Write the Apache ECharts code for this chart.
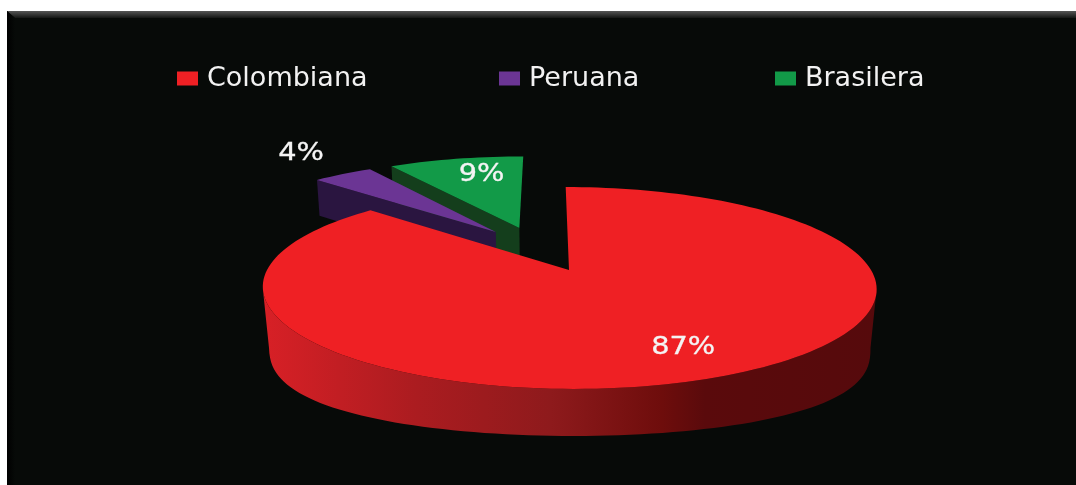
<!DOCTYPE html>
<html>
<head>
<meta charset="utf-8">
<style>
  html, body { margin: 0; padding: 0; background: #fff; }
  #main { width: 1076px; height: 485px; }
</style>
<script src="https://cdn.jsdelivr.net/npm/echarts@6/dist/echarts.min.js"></script>
</head>
<body>
<div id="main"></div>
<script>
const categories = ['Colombiana', 'Peruana', 'Brasilera'];
const shares = [87, 4, 9];
const colors = ['#ef2024', '#6b3594', '#129a48'];
const wallColors = ['#d42026', '#2a1540', '#143e1c'];
const legendLeft = [177, 499, 775];

// how far each slice is pulled out of the pie, in pie radii
const explode = [[0, 0], [-0.255, 0.418], [-0.172, 0.465]];
// label position relative to the slice's own centre, in pie radii
const labelAt = [[0.322, -0.698], [-0.85, 1.086], [-0.163, 0.71]];

// perspective of the pie: u goes right, v goes to the back
const cx = 569, apexY = 270, radius = 302, persp = 0.178, backSlope = -49.7, skew = 0.04;
const depth = 41, depthScaleX = 0.99, depthScaleY = 1.058, rimScaleX = 0.98;
// rim of the big slice, fuller than an ellipse like in the source picture
const rimTopY = 288, rimTopRy = 101, rimY = 345, rimRy = 91, rimPow = 0.75;

const total = shares.reduce((a, b) => a + b, 0);

function project(u, v) {
    const w = 1 + persp * v;
    const y = (apexY + backSlope * v) / w;
    return [cx + radius * u / w + (y - apexY) * skew, y];
}
function lower(p) {
    return [cx + (p[0] - cx) * depthScaleX, apexY + (p[1] - apexY) * depthScaleY + depth];
}
function lowerRim(p) {
    const t = Math.max(0, (p[1] - rimTopY) / rimTopRy);
    return [cx + (p[0] - cx) * rimScaleX, rimY + rimRy * Math.pow(t, rimPow)];
}
function startAngle(idx) {
    let sum = 0;
    for (let i = 0; i < idx; i++) sum += shares[i];
    return sum / total * Math.PI * 2;
}

function renderSlice(params) {
    const idx = params.seriesIndex === 0 ? 2 : params.seriesIndex === 1 ? 1 : 0;
    const from = startAngle(idx);
    const to = from + shares[idx] / total * Math.PI * 2;
    const off = explode[idx];
    const arc = [];
    const steps = Math.ceil(shares[idx] * 2);
    for (let i = 0; i <= steps; i++) {
        const a = from + (to - from) * i / steps;
        arc.push(project(off[0] + Math.sin(a), off[1] + Math.cos(a)));
    }
    const apex = project(off[0], off[1]);
    const children = [];

    if (idx > 0) {
        // left cut face, only the pulled out slices show it
        children.push({
            type: 'polygon',
            shape: { points: [arc[0], apex, lower(apex), lower(arc[0])] },
            style: { fill: wallColors[idx] }
        });
    } else {
        // front part of the outer wall, back part is hidden by the top
        const front = arc.filter(p => p[1] >= rimTopY);
        children.push({
            type: 'polygon',
            shape: { points: front.concat(front.map(lowerRim).reverse()) },
            style: {
                fill: new echarts.graphic.LinearGradient(0, 0, 1, 0, [
                    { offset: 0, color: '#d82026' },
                    { offset: 0.25, color: '#ab1c20' },
                    { offset: 0.47, color: '#8e1a1c' },
                    { offset: 0.65, color: '#6e0d0c' },
                    { offset: 0.72, color: '#5a0a0c' },
                    { offset: 1, color: '#560a0c' }
                ])
            }
        });
    }
    children.push({
        type: 'polygon',
        shape: { points: arc.concat([apex]) },
        style: { fill: colors[idx] }
    });
    const lp = project(off[0] + labelAt[idx][0], off[1] + labelAt[idx][1]);
    children.push({
        type: 'text',
        x: lp[0],
        y: lp[1],
        z2: 10,
        scaleX: 1.2,
        style: {
            text: shares[idx] + '%',
            fill: '#f4f4f4',
            stroke: '#f4f4f4',
            lineWidth: 0.3,
            font: '24px "DejaVu Sans"',
            align: 'center',
            verticalAlign: 'middle'
        }
    });
    return { type: 'group', children: children };
}

// painted back to front
const series = [2, 1, 0].map(i => ({
    name: categories[i],
    type: 'custom',
    coordinateSystem: 'none',
    renderItem: renderSlice,
    itemStyle: { color: colors[i] },
    animation: false,
    data: [shares[i]]
}));

const chart = echarts.init(document.getElementById('main'));
chart.setOption({
    backgroundColor: '#fff',
    animation: false,
    graphic: [
        { type: 'rect', z: -10, shape: { x: 7, y: 11, width: 1069, height: 474 }, style: { fill: '#070a08' } },
        {
            type: 'polygon', z: -9,
            shape: { points: [[7, 11], [1076, 11], [1076, 18], [15, 18]] },
            style: { fill: new echarts.graphic.LinearGradient(0, 0, 0, 1, [
                { offset: 0, color: '#565656' },
                { offset: 1, color: '#141614' }
            ]) }
        },
        {
            type: 'polygon', z: -9,
            shape: { points: [[7, 11], [15, 18], [15, 485], [7, 485]] },
            style: { fill: new echarts.graphic.LinearGradient(0, 0, 1, 0, [
                { offset: 0, color: '#000000' },
                { offset: 1, color: '#070a08' }
            ]) }
        }
    ],
    legend: categories.map((name, i) => ({
        data: [name],
        left: legendLeft[i],
        top: 65,
        padding: 0,
        icon: 'rect',
        itemWidth: 21,
        itemHeight: 14,
        itemGap: 0,
        selectedMode: false,
        textStyle: { color: '#f2f2f2', fontFamily: 'DejaVu Sans', fontSize: 27, padding: [0, 0, 0, 4] }
    })),
    series: series
});
</script>
</body>
</html>
